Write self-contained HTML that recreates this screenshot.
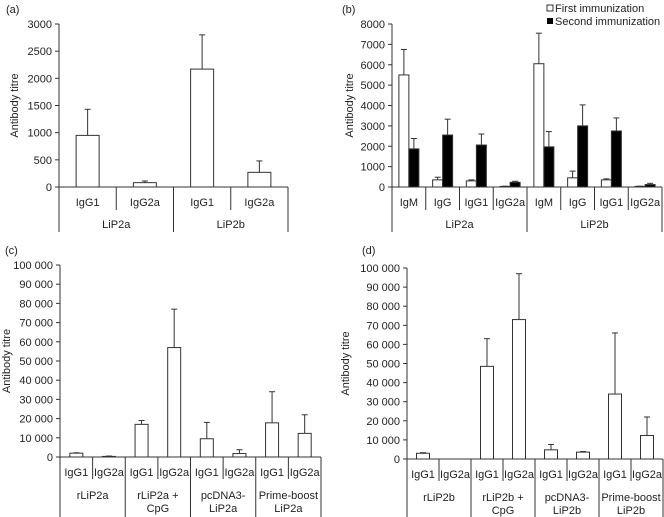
<!DOCTYPE html>
<html><head><meta charset="utf-8"><style>
html,body{margin:0;padding:0;background:#fff;width:664px;height:517px;overflow:hidden}
svg{font-family:"Liberation Sans",Arial,sans-serif;font-size:11px;fill:#222}
</style></head><body>
<svg id="fig" width="664" height="517" viewBox="0 0 664 517"></svg>
<script>
// Panel (a)
const aCats = ["IgG1","IgG2a","IgG1","IgG2a"];
const aGroups = ["LiP2a","LiP2b"];
const aVals = [950, 80, 2170, 270];
const aErr = [1430, 110, 2800, 480];
const aTicks = [0,500,1000,1500,2000,2500,3000];
const aTickLabels = ["0","500","1000","1500","2000","2500","3000"];
// Panel (b)
const bCats = ["IgM","IgG","IgG1","IgG2a","IgM","IgG","IgG1","IgG2a"];
const bGroups = ["LiP2a","LiP2b"];
const bFirst = [5500, 350, 300, 30, 6050, 450, 350, 30];
const bFirstErr = [6750, 480, 350, 40, 7550, 780, 400, 40];
const bSecond = [1870, 2550, 2060, 230, 1970, 3000, 2750, 120];
const bSecondErr = [2380, 3330, 2600, 280, 2720, 4030, 3390, 180];
const bTicks = [0,1000,2000,3000,4000,5000,6000,7000,8000];
const bTickLabels = ["0","1000","2000","3000","4000","5000","6000","7000","8000"];
// Panel (c)
const cCats = ["IgG1","IgG2a","IgG1","IgG2a","IgG1","IgG2a","IgG1","IgG2a"];
const cGroups = [["rLiP2a"],["rLiP2a +","CpG"],["pcDNA3-","LiP2a"],["Prime-boost","LiP2a"]];
const cVals = [2000, 300, 17000, 57000, 9500, 1800, 17800, 12300];
const cErr = [2200, 500, 19000, 77000, 18000, 3800, 34000, 22000];
// Panel (d)
const dCats = ["IgG1","IgG2a","IgG1","IgG2a","IgG1","IgG2a","IgG1","IgG2a"];
const dGroups = [["rLiP2b"],["rLiP2b +","CpG"],["pcDNA3-","LiP2b"],["Prime-boost","LiP2b"]];
const dVals = [3000, 0, 48500, 73000, 4800, 3600, 34000, 12300];
const dErr = [3300, 0, 63000, 97000, 7600, 3900, 66000, 22000];
const bigTicks = [0,10000,20000,30000,40000,50000,60000,70000,80000,90000,100000];
const bigTickLabels = ["0","10 000","20 000","30 000","40 000","50 000","60 000","70 000","80 000","90 000","100 000"];

const NS = "http://www.w3.org/2000/svg";
const svg = document.getElementById("fig");
function mk(tag, attrs, parent, text){
  const e = document.createElementNS(NS, tag);
  for (const k in attrs) e.setAttribute(k, attrs[k]);
  if (text !== undefined) e.textContent = text;
  (parent||svg).appendChild(e);
  return e;
}
function line(g,x1,y1,x2,y2){ return mk("line",{x1,y1,x2,y2,stroke:"#333","stroke-width":1},g); }

function panel(o){
  const g = mk("g",{});
  
  
  const y = v => o.y0 - (v / o.max) * (o.y0 - o.yTop);
  const n = o.cats.length;
  const cw = (o.xR - o.x0) / n;
  const xc = i => o.x0 + cw * (i + 0.5);
  const pl = mk("text",{x:o.labX,y:o.labY},g,o.label);
  
  
  line(g,o.x0,o.yTop,o.x0,o.yBottom);
  o.ticks.forEach((t,i)=>{
    line(g,o.x0-4,y(t),o.x0,y(t));
    const tl = mk("text",{x:o.x0-7,y:y(t)+4,"text-anchor":"end"},g,o.tickLabels[i]);
    
    
  });
  const yt = mk("text",{transform:`translate(${o.titleX},${(o.yTop+o.y0)/2}) rotate(-90)`,"text-anchor":"middle"},g,"Antibody titre");
  
  
  line(g,o.x0,o.y0,o.xR,o.y0);
  o.series.forEach((s,si)=>{
    s.vals.forEach((v,i)=>{
      const bx = xc(i) - o.bw*o.series.length/2 + si*o.bw;
      const ex = bx + o.bw/2;
      if (s.err[i] > v) {
        line(g,ex,y(v),ex,y(s.err[i]));
        line(g,ex-3,y(s.err[i]),ex+3,y(s.err[i]));
      }
      if (v > 0) {
        const r = mk("rect",{x:bx,y:y(v),width:o.bw,height:o.y0-y(v),fill:s.fill,stroke:"#333","stroke-width":1},g);
        
        
      }
    });
  });
  const gs = n / o.groups.length;
  o.cats.forEach((c,i)=>{
    const t = mk("text",{x:xc(i),y:o.subY,"text-anchor":"middle"},g,c);
    
    
    const xd = o.x0 + cw*(i+1);
    if ((i+1) % gs !== 0) line(g,xd,o.y0,xd,o.subBottom);
  });
  for (let k=0;k<=o.groups.length;k++){
    const xd = o.x0 + cw*gs*k;
    line(g,xd,o.y0,xd,o.yBottom);
  }
  o.groups.forEach((gr,k)=>{
    const lines = Array.isArray(gr)?gr:[gr];
    const cx = o.x0 + cw*gs*(k+0.5);
    lines.forEach((l,j)=>{
      const t = mk("text",{x:cx,y:o.grpY + j*13,"text-anchor":"middle"},g,l);
      
      
    });
  });
}

panel({name:"panel-a",label:"(a)",labX:6,labY:13,x0:59,xR:288,yTop:24,y0:187,yBottom:232,max:3000,
  ticks:aTicks,tickLabels:aTickLabels,titleX:18,cats:aCats,groups:aGroups,bw:23,
  series:[{vals:aVals,err:aErr,fill:"#fff"}],subY:206,subBottom:210,grpY:228});
panel({name:"panel-b",label:"(b)",labX:342,labY:13,x0:392,xR:662,yTop:24,y0:187,yBottom:232,max:8000,
  ticks:bTicks,tickLabels:bTickLabels,titleX:353,cats:bCats,groups:bGroups,bw:10,
  series:[{vals:bFirst,err:bFirstErr,fill:"#fff"},{vals:bSecond,err:bSecondErr,fill:"#000"}],subY:206,subBottom:210,grpY:228});
panel({name:"panel-c",label:"(c)",labX:5,labY:254,x0:60,xR:321,yTop:265,y0:457,yBottom:517,max:100000,
  ticks:bigTicks,tickLabels:bigTickLabels,titleX:10,cats:cCats,groups:cGroups,bw:13,
  series:[{vals:cVals,err:cErr,fill:"#fff"}],subY:476,subBottom:479,grpY:499});
panel({name:"panel-d",label:"(d)",labX:362,labY:254,x0:407,xR:663,yTop:268,y0:459,yBottom:517,max:100000,
  ticks:bigTicks,tickLabels:bigTickLabels,titleX:349,cats:dCats,groups:dGroups,bw:13,
  series:[{vals:dVals,err:dErr,fill:"#fff"}],subY:478,subBottom:481,grpY:501});

const lg = mk("g",{});


mk("rect",{x:547,y:5,width:6,height:6,fill:"#fff",stroke:"#333","stroke-width":1},lg);
const l1 = mk("text",{x:555,y:12},lg,"First immunization");


mk("rect",{x:547,y:18,width:6,height:6,fill:"#000"},lg);
const l2 = mk("text",{x:555,y:25},lg,"Second immunization");


</script>
</body></html>
